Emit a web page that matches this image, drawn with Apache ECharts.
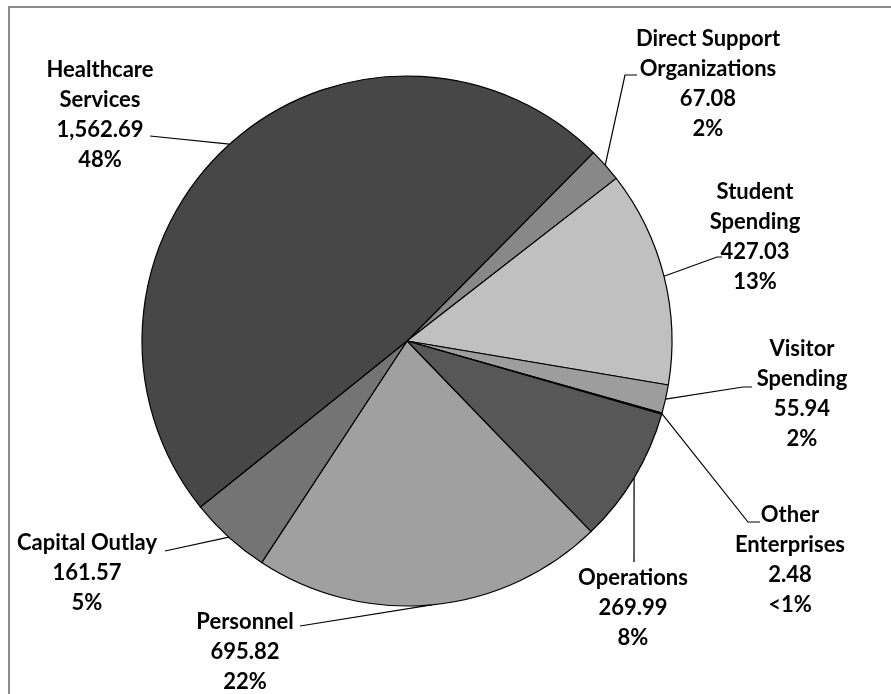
<!DOCTYPE html>
<html>
<head>
<meta charset="utf-8">
<script src="https://cdn.jsdelivr.net/npm/echarts@6/dist/echarts.min.js"></script>
<style>
    html, body { margin: 0; padding: 0; background: #fff; }
    #main { width: 891px; height: 694px; }
</style>
</head>
<body>
<div id="main"></div>
<script>
    // slices, clockwise from the top-right
    var names = ['Direct Support\nOrganizations', 'Student\nSpending', 'Visitor\nSpending', 'Other\nEnterprises',
                 'Operations', 'Personnel', 'Capital Outlay', 'Healthcare\nServices'];
    var values = [67.08, 427.03, 55.94, 2.48, 269.99, 695.82, 161.57, 1562.69];
    var colors = ['#888888', '#c0c0c0', '#9d9d9d', '#111111', '#575757', '#a0a0a0', '#747474', '#474747'];

    // label centres and leader-line bends (screen px)
    var labelPos = [[708, 84], [755, 237], [802, 394], [790, 560], [633, 608], [245, 652], [87, 573], [100, 115]];
    var linePts = [
        [[625, 75], [637, 75]],
        [[717, 257], [722, 257]],
        [[743, 387], [752, 387]],
        [[748, 522], [760, 522]],
        [[634, 562]],
        [[300, 626]],
        [[165, 551]],
        [[150, 136]]
    ];

    function fmtNum(v) {
        return v.toLocaleString('en-US', {minimumFractionDigits: 2, maximumFractionDigits: 2});
    }

    var chart = echarts.init(document.getElementById('main'));
    chart.setOption({
        animation: false,
        graphic: [{
            type: 'rect',
            shape: {x: 9, y: 7, width: 900, height: 700},
            style: {fill: 'none', stroke: '#8c8c8c', lineWidth: 2},
            silent: true
        }],
        series: [{
            type: 'pie',
            center: [407, 341],
            radius: 265,
            startAngle: 45.3,
            clockwise: true,
            percentPrecision: 0,
            avoidLabelOverlap: false,
            itemStyle: {borderColor: '#000', borderWidth: 1.2},
            label: {
                show: true,
                position: 'outside',
                fontFamily: 'Lato',
                fontWeight: 'bold',
                fontSize: 22,
                lineHeight: 30,
                color: '#000',
                align: 'center',
                formatter: function (p) {
                    var pct = p.percent < 1 ? '<1' : p.percent;
                    return p.name + '\n' + fmtNum(p.value) + '\n' + pct + '%';
                }
            },
            labelLine: {
                show: true,
                lineStyle: {color: '#000', width: 1.2}
            },
            labelLayout: function (params) {
                var i = params.dataIndex;
                var pts = [params.labelLinePoints[0]].concat(linePts[i]);
                return {
                    x: labelPos[i][0],
                    y: labelPos[i][1],
                    align: 'center',
                    verticalAlign: 'middle',
                    labelLinePoints: pts
                };
            },
            data: names.map(function (n, i) {
                return {name: n, value: values[i], itemStyle: {color: colors[i]}};
            })
        }]
    });
</script>
</body>
</html>
